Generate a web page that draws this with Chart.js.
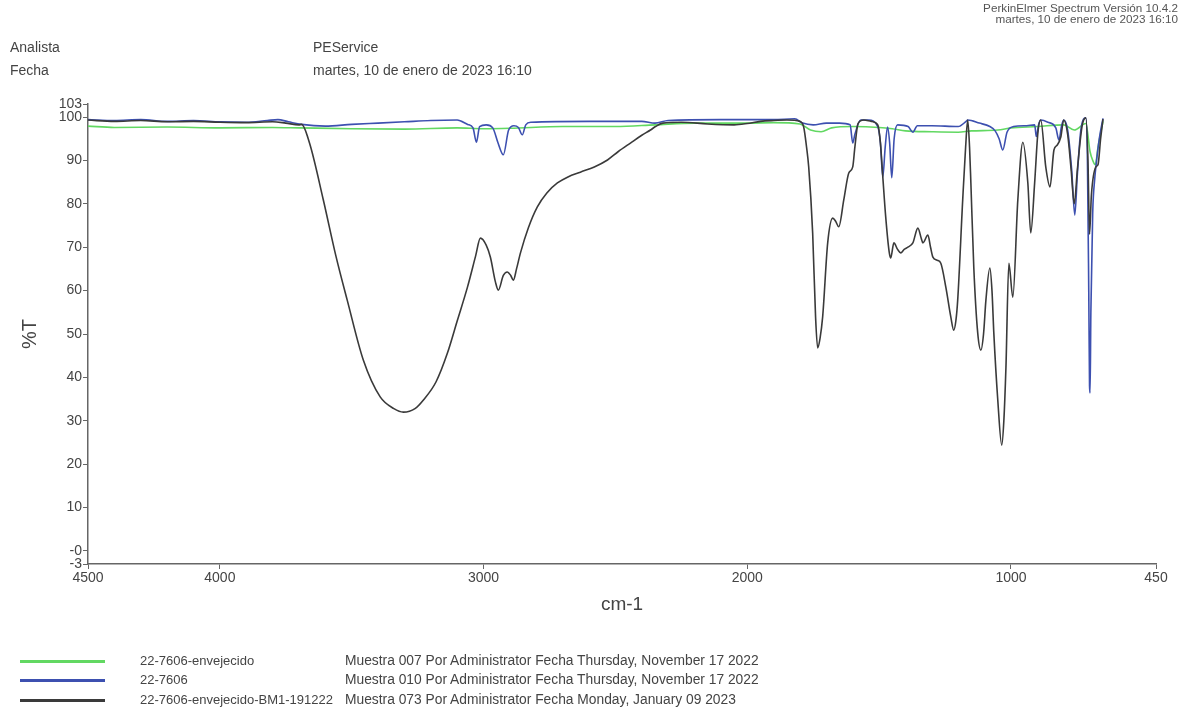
<!DOCTYPE html>
<html lang="es">
<head>
    <meta charset="UTF-8">
    <title>Espectro IR - 22-7606</title>
    <style>
        body {
            margin: 0;
            background-color: #fff;
            font-family: 'Liberation Sans', Arial, sans-serif;
            color: #444;
        }
        .page {
            position: relative;
            width: 1185px;
            height: 709px;
            overflow: hidden;
        }
        #spectrum {
            position: absolute;
            left: 0;
            top: 0;
        }
        .txt {
            position: absolute;
            white-space: nowrap;
            font-size: 14px;
            line-height: 15px;
        }
        .info {
            position: absolute;
            right: 7px;
            text-align: right;
            font-size: 11.7px;
            line-height: 11px;
            color: #555;
        }
        .legend-row {
            position: absolute;
            left: 0;
            height: 16px;
            width: 900px;
            font-size: 13.8px;
        }
        .legend-row .swatch {
            position: absolute;
            left: 20px;
            top: 7px;
            width: 85px;
            height: 3px;
        }
        .legend-row .name {
            position: absolute;
            left: 140px;
            top: 0;
            font-size: 13px;
        }
        .legend-row .desc {
            position: absolute;
            left: 345px;
            top: 0;
        }
    </style>
    <script src="https://cdn.jsdelivr.net/npm/chart.js"></script>
</head>
<body>
<div class="page">
    <canvas id="spectrum" width="1185" height="709"></canvas>

    <div class="info" style="top:2px">PerkinElmer Spectrum Versión 10.4.2</div>
    <div class="info" style="top:13px">martes, 10 de enero de 2023 16:10</div>

    <div class="txt" style="left:10px; top:40px">Analista</div>
    <div class="txt" style="left:10px; top:63px">Fecha</div>
    <div class="txt" style="left:313px; top:40px">PEService</div>
    <div class="txt" style="left:313px; top:63px">martes, 10 de enero de 2023 16:10</div>

    <div id="legend"></div>
</div>
<script>
    // Ejes
    const xTicks = [4500, 4000, 3000, 2000, 1000, 450];
    const yTicks = [103, 100, 90, 80, 70, 60, 50, 40, 30, 20, 10, 0, -3];

    // Series (cm-1, %T)
    const names = ['22-7606-envejecido', '22-7606', '22-7606-envejecido-BM1-191222'];
    const descs = [
        'Muestra 007 Por Administrator Fecha Thursday, November 17 2022',
        'Muestra 010 Por Administrator Fecha Thursday, November 17 2022',
        'Muestra 073 Por Administrator Fecha Monday, January 09 2023'
    ];
    const colors = ['#62d862', '#3d50b0', '#3a3a3a'];

    const greenWn = [4500, 4400, 4200, 4000, 3800, 3700, 3500, 3300, 3100, 3000, 2900, 2700, 2500, 2350, 2200,
        2000, 1900, 1800, 1760, 1720, 1680, 1600, 1500, 1450, 1400, 1300, 1200, 1150, 1050, 1000, 900, 800,
        760, 716, 700, 690, 680, 670, 651];
    const greenT = [97.9, 97.6, 97.7, 97.5, 97.6, 97.5, 97.3, 97.2, 97.5, 97.3, 97.4, 97.8, 97.8, 98.2, 98.6,
        98.6, 98.7, 98.4, 97.0, 96.6, 97.5, 97.8, 97.6, 97.3, 96.8, 96.6, 96.5, 96.8, 97.0, 97.5, 97.8, 98.2,
        97.0, 98.5, 92.0, 90.0, 89.0, 93.0, 99.0];

    const blueWn = [4500, 4400, 4300, 4200, 4100, 4000, 3900, 3820, 3780, 3740, 3690, 3600, 3500, 3400, 3300,
        3200, 3100, 3060, 3040, 3027, 3015, 2990, 2965, 2945, 2925, 2905, 2885, 2868, 2853, 2840, 2820, 2600,
        2400, 2350, 2300, 2100, 1900, 1820, 1790, 1750, 1700, 1650, 1610, 1600, 1592, 1570, 1540, 1505, 1495,
        1486, 1477, 1468, 1460, 1452, 1443, 1430, 1390, 1372, 1355, 1300, 1200, 1170, 1164, 1120, 1080, 1060,
        1045, 1031, 1015, 990, 940, 910, 904, 895, 887, 860, 830, 818, 808, 800, 785, 770, 758, 748, 735, 716,
        710, 705, 702, 700, 697, 690, 682, 678, 665, 651];
    const blueT = [99.4, 99.2, 99.4, 99.0, 99.2, 98.9, 98.8, 99.2, 99.4, 98.9, 98.3, 97.9, 98.3, 98.6, 98.9,
        99.2, 99.3, 98.3, 97.5, 94.2, 97.8, 98.2, 97.5, 94.0, 91.3, 97.0, 98.0, 97.6, 95.9, 98.2, 98.8, 99.0,
        99.0, 98.6, 99.2, 99.4, 99.4, 99.6, 98.6, 98.2, 98.6, 98.6, 98.2, 94.0, 96.0, 99.3, 99.3, 97.8, 94.0,
        86.2, 93.0, 97.7, 94.0, 86.0, 95.0, 98.2, 97.8, 96.5, 98.0, 98.0, 97.8, 99.0, 99.3, 98.6, 97.8, 96.8,
        95.0, 92.4, 96.5, 97.8, 98.0, 98.2, 95.5, 98.3, 99.3, 98.8, 97.5, 94.7, 98.0, 99.3, 97.0, 88.0, 77.4,
        87.0, 97.0, 99.8, 90.0, 60.0, 38.0, 36.4, 55.0, 78.0, 86.0, 88.5, 95.0, 99.7];

    const blackWn = [4500, 4400, 4300, 4200, 4100, 4000, 3900, 3800, 3750, 3700, 3690, 3660, 3608, 3560, 3517,
        3456, 3392, 3340, 3304, 3260, 3228, 3180, 3137, 3100, 3061, 3030, 3012, 2990, 2974, 2955, 2944, 2925,
        2910, 2897, 2887, 2875, 2860, 2830, 2796, 2760, 2720, 2680, 2633, 2580, 2530, 2490, 2443, 2400, 2367,
        2348, 2320, 2250, 2150, 2050, 2000, 1950, 1900, 1850, 1800, 1786, 1775, 1767, 1752, 1741, 1733, 1724,
        1714, 1695, 1676, 1665, 1653, 1634, 1615, 1600, 1592, 1580, 1558, 1530, 1505, 1495, 1486, 1475, 1462,
        1456, 1444, 1430, 1418, 1405, 1391, 1372, 1353, 1340, 1334, 1315, 1305, 1296, 1280, 1266, 1247, 1228,
        1217, 1209, 1202, 1183, 1172, 1164, 1157, 1152, 1141, 1126, 1114, 1104, 1095, 1080, 1072, 1065, 1050,
        1035, 1027, 1019, 1008, 993, 974, 955, 936, 925, 910, 898, 887, 868, 852, 837, 825, 811, 800, 785, 772,
        760, 748, 730, 716, 708, 702, 695, 678, 670, 660, 651];
    const blackT = [99.3, 99.0, 99.2, 98.9, 99.0, 98.8, 98.7, 98.9, 98.6, 98.2, 98.3, 94.0, 81.0, 68.0, 57.8,
        44.0, 35.5, 32.8, 32.0, 32.8, 34.8, 39.0, 45.6, 53.0, 60.8, 68.0, 72.1, 70.5, 67.7, 62.0, 60.1, 63.5,
        64.3, 63.5, 62.4, 65.0, 68.7, 74.5, 79.3, 82.5, 84.8, 86.2, 87.3, 88.5, 90.1, 92.0, 94.0, 95.8, 97.0,
        97.8, 98.6, 98.8, 98.4, 98.2, 98.5, 99.0, 99.2, 99.3, 99.0, 97.7, 93.0, 88.5, 73.3, 54.0, 46.8, 49.0,
        54.0, 71.0, 76.7, 76.0, 74.7, 80.9, 87.1, 88.5, 93.0, 98.5, 99.3, 99.0, 98.2, 94.0, 86.2, 77.0, 69.0,
        67.5, 71.0, 69.5, 68.7, 69.5, 70.0, 71.0, 74.4, 72.0, 71.0, 72.8, 70.0, 67.7, 67.0, 66.3, 60.8, 53.9,
        50.9, 53.0, 57.8, 80.9, 93.0, 99.3, 93.0, 84.8, 65.4, 50.2, 46.3, 50.0, 57.8, 65.2, 60.0, 50.2, 34.8,
        24.4, 30.0, 42.4, 66.3, 58.5, 80.9, 94.2, 84.8, 73.3, 85.0, 96.3, 99.3, 88.5, 83.9, 92.4, 93.5, 95.4,
        99.3, 96.0, 88.0, 80.0, 88.0, 98.0, 99.8, 90.0, 73.0, 82.0, 88.5, 89.0, 95.0, 99.5];

    const series = [
        { wn: blackWn, t: blackT, i: 2 },
        { wn: blueWn, t: blueT, i: 1 },
        { wn: greenWn, t: greenT, i: 0 }
    ];

    const datasets = series.map(s => ({
        label: names[s.i],
        data: s.wn.map((w, k) => ({ x: w, y: s.t[k] })),
        borderColor: colors[s.i],
        borderWidth: 1.6,
        pointRadius: 0,
        cubicInterpolationMode: 'monotone',
        fill: false
    }));

    const axisColor = '#666';
    const tickFont = { family: 'Liberation Sans', size: 14 };

    new Chart(document.getElementById('spectrum'), {
        type: 'line',
        data: { datasets: datasets },
        options: {
            responsive: false,
            animation: false,
            devicePixelRatio: 1,
            layout: { padding: { left: 0, right: 29, top: 104, bottom: 85 } },
            plugins: {
                legend: { display: false },
                tooltip: { enabled: false }
            },
            scales: {
                x: {
                    type: 'linear',
                    reverse: true,
                    min: 450,
                    max: 4500,
                    afterBuildTicks: scale => { scale.ticks = xTicks.map(v => ({ value: v })); },
                    afterFit: scale => { scale.height = 60; },
                    ticks: {
                        color: '#444',
                        font: tickFont,
                        padding: 1,
                        maxRotation: 0,
                        autoSkip: false,
                        callback: v => String(v)
                    },
                    grid: { drawOnChartArea: false, tickLength: 5, color: axisColor },
                    border: { color: axisColor, width: 1.5 },
                    title: {
                        display: true,
                        text: 'cm-1',
                        color: '#444',
                        font: { family: 'Liberation Sans', size: 19 },
                        padding: { top: 0, bottom: 8 }
                    }
                },
                y: {
                    min: -3,
                    max: 103,
                    afterBuildTicks: scale => { scale.ticks = yTicks.map(v => ({ value: v })); },
                    afterFit: scale => { scale.width = 88; },
                    ticks: {
                        color: '#444',
                        font: tickFont,
                        padding: 1,
                        autoSkip: false,
                        callback: v => (v === 0 ? '-0' : String(v))
                    },
                    grid: { drawOnChartArea: false, tickLength: 5, color: axisColor },
                    border: { color: axisColor, width: 1.5 },
                    title: {
                        display: true,
                        text: '%T',
                        color: '#444',
                        font: { family: 'Liberation Sans', size: 20 },
                        padding: { top: 18, bottom: 0 }
                    }
                }
            }
        }
    });

    // Leyenda inferior
    const legendTops = [653, 672, 692];
    const legend = document.getElementById('legend');
    names.forEach((n, i) => {
        const row = document.createElement('div');
        row.className = 'legend-row';
        row.style.top = legendTops[i] + 'px';
        row.innerHTML = `<div class="swatch" style="background:${colors[i]}"></div>
            <span class="name">${n}</span><span class="desc">${descs[i]}</span>`;
        legend.appendChild(row);
    });
</script>
</body>
</html>
